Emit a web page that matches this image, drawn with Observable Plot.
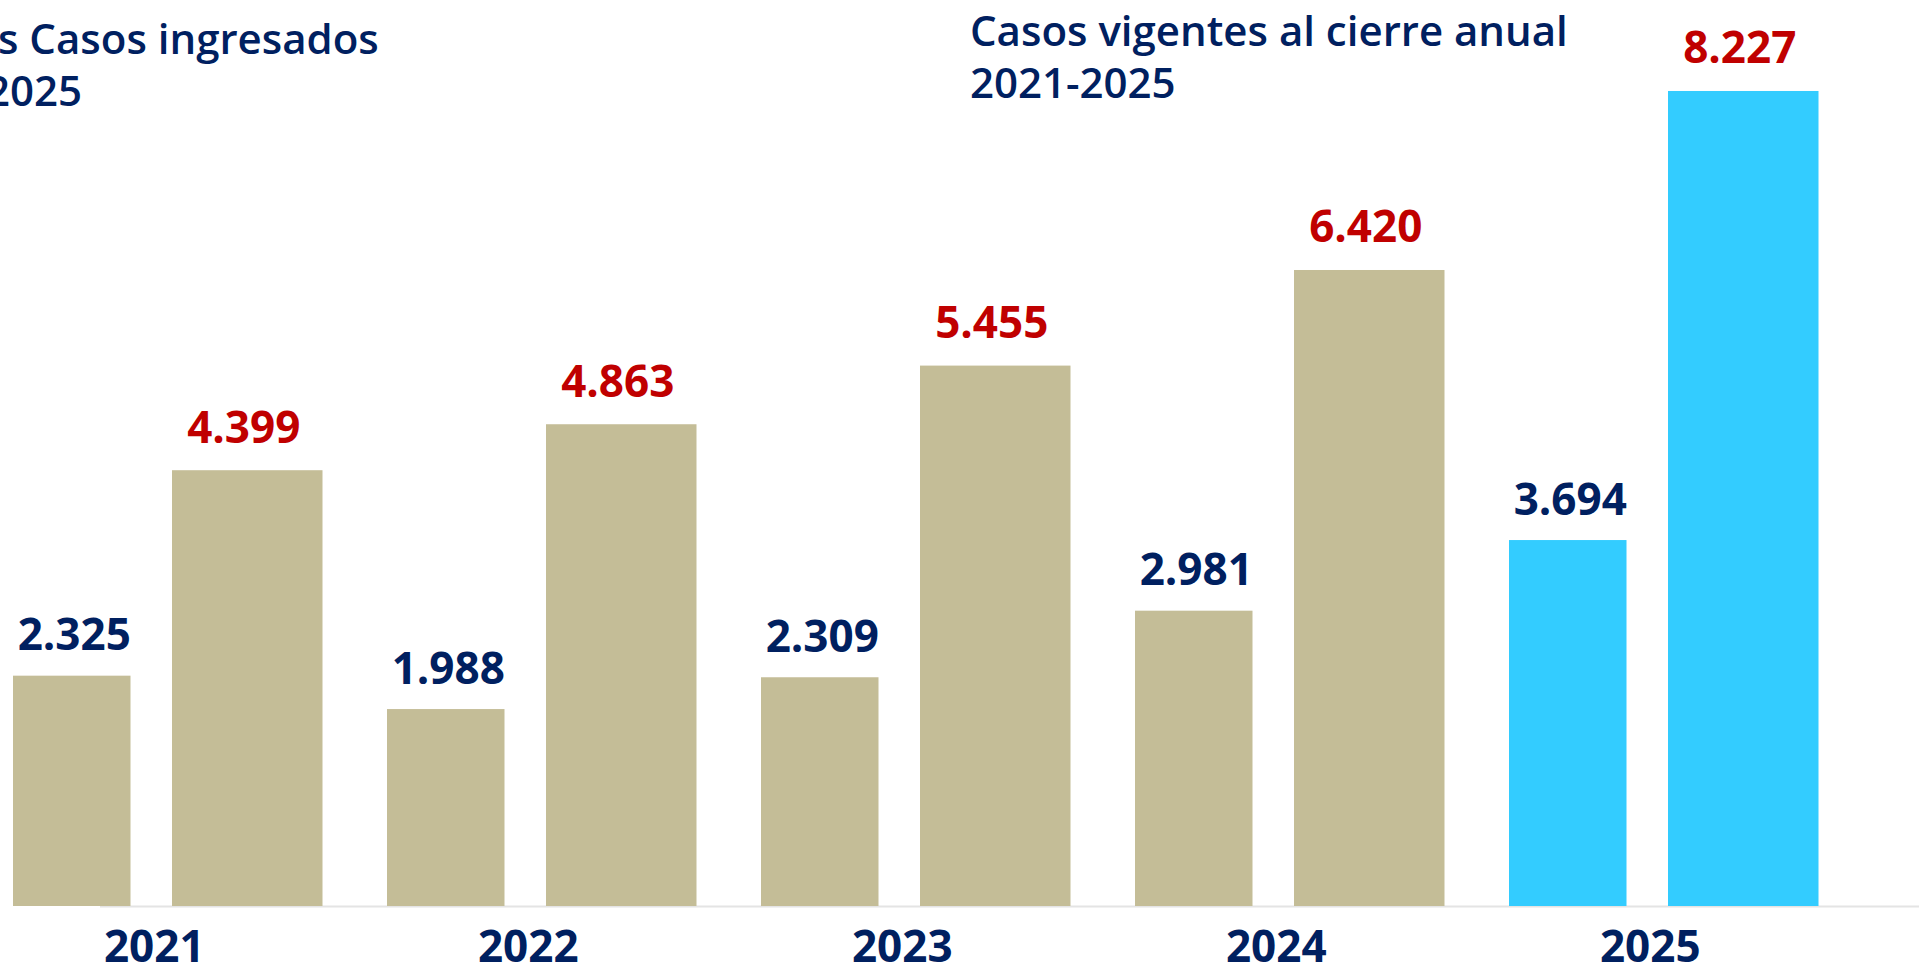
<!DOCTYPE html>
<html><head><meta charset="utf-8">
<script src="https://cdn.jsdelivr.net/npm/d3@7"></script>
<script src="https://cdn.jsdelivr.net/npm/@observablehq/plot@0.6"></script>
<style>
html,body{margin:0;padding:0;background:#fff;overflow:hidden}
#wrap{position:relative;width:1919px;height:975px;overflow:hidden;background:#fff}
.t{position:absolute;font-family:"Open Sans",sans-serif;font-weight:600;font-size:42px;color:#002060;white-space:nowrap;line-height:52px}
</style></head><body>
<div id="wrap">
<div id="chart"></div>
<div class="t" style="left:-2px;top:12px">s Casos ingresados<br><span style="position:relative;left:-12px">2025</span></div>
<div class="t" style="left:970px;top:4px">Casos vigentes al cierre anual<br>2021-2025</div>
</div>
<script>
const years = ["2021", "2022", "2023", "2024", "2025"];
const ingresados = [2325, 1988, 2309, 2981, 3694];
const vigentes = [4399, 4863, 5455, 6420, 8227];
const highlightYear = "2025";

const TAN = "#C4BD97", CYAN = "#33CCFF", NAVY = "#002060", RED = "#C00000";
const es = d3.formatLocale({decimal: ",", thousands: ".", grouping: [3], currency: ["", ""]});
const fmt = es.format(",");

const data = years.map((year, i) => ({year, ingresados: ingresados[i], vigentes: vigentes[i]}));

const W = 1919, marginLeft = 12, marginRight = 34.5;
const bw = (W - marginLeft - marginRight) / years.length; // band width
const aW = 118, gap = 41, bW = 151;
const aInsetR = bw - aW, bInsetL = aW + gap, bInsetR = bw - aW - gap - bW;
const aDx = aW / 2 - bw / 2, bDx = aW + gap + bW / 2 - bw / 2;
const fillFor = d => d.year === highlightYear ? CYAN : TAN;

const chart = Plot.plot({
  width: W, height: 975,
  marginLeft, marginRight, marginTop: 14.4, marginBottom: 69,
  style: {fontFamily: "'Open Sans', sans-serif", fontWeight: "bold", color: NAVY, background: "transparent"},
  x: {domain: years, padding: 0},
  y: {domain: [0, 9000], axis: null},
  color: {type: "identity"},
  marks: [
    Plot.ruleY([0], {stroke: "#e4e4e4", strokeWidth: 2, insetLeft: 88, insetRight: -marginRight}),
    Plot.barY(data, {x: "year", y: "ingresados", fill: fillFor, insetLeft: 0, insetRight: aInsetR}),
    Plot.barY(data, {x: "year", y: "vigentes", fill: fillFor, insetLeft: bInsetL, insetRight: bInsetR}),
    Plot.text(data, {x: "year", y: "ingresados", text: d => fmt(d.ingresados), dx: aDx + 2, dy: -26, lineAnchor: "bottom", fill: NAVY, fontSize: 44, fontWeight: "bold"}),
    Plot.text(data, {x: "year", y: "vigentes", text: d => fmt(d.vigentes), dx: bDx - 4, dy: -28, lineAnchor: "bottom", fill: RED, fontSize: 44, fontWeight: "bold"}),
    Plot.axisX({tickSize: 0, tickPadding: 24, fontSize: 44, fontWeight: "bold", dx: (aW + gap + bW) / 2 - bw / 2 - 14, label: null})
  ]
});
document.getElementById("chart").appendChild(chart);
</script>
</body></html>
